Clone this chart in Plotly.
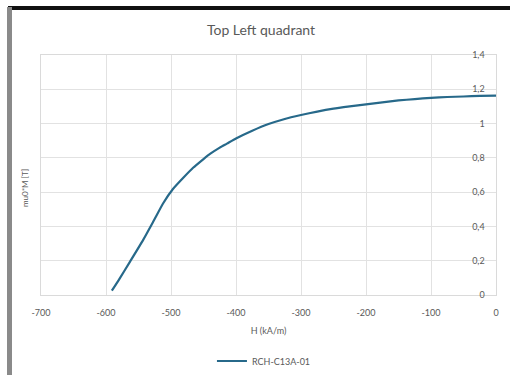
import plotly.graph_objects as go

# Data
H_kAm = [-591, -580, -563, -543, -527, -512, -497, -480, -466, -450, -440, -425,
         -414, -400, -375, -350, -325, -300, -275, -250, -225, -200, -175, -150,
         -125, -100, -75, -50, -25, 0]
mu0M_T = [0.025, 0.09, 0.195, 0.32, 0.43, 0.535, 0.618, 0.688, 0.742, 0.793, 0.823, 0.86,
          0.883, 0.913, 0.958, 0.997, 1.027, 1.05, 1.07, 1.087, 1.10, 1.112, 1.124, 1.135,
          1.143, 1.15, 1.155, 1.158, 1.161, 1.163]
series_name = "RCH-C13A-01"

x_tickvals = [-700, -600, -500, -400, -300, -200, -100, 0]
x_ticktext = ["-700", "-600", "-500", "-400", "-300", "-200", "-100", "0"]
y_tickvals = [0, 0.2, 0.4, 0.6, 0.8, 1.0, 1.2, 1.4]
y_ticktext = ["0", "0,2", "0,4", "0,6", "0,8", "1", "1,2", "1,4"]

TXT = "#595959"
GRID = "#e2e2e2"
FONT = "Lato, Liberation Sans, sans-serif"

fig = go.Figure()
fig.add_trace(go.Scatter(
    x=H_kAm, y=mu0M_T, mode="lines", name=series_name,
    line=dict(color="#27698a", width=2.2, shape="spline", smoothing=0.5),
))
# same series on the label axis (invisible) so that the label axis renders
fig.add_trace(go.Scatter(
    x=H_kAm, y=mu0M_T, mode="lines", yaxis="y2", showlegend=False,
    hoverinfo="skip", line=dict(color="rgba(0,0,0,0)", width=0),
))

fig.update_layout(
    width=510, height=375,
    margin=dict(l=41, r=14, t=55, b=80, autoexpand=False),
    paper_bgcolor="white", plot_bgcolor="white",
    font=dict(family=FONT, size=9, color=TXT),
    separators=", ",
    showlegend=True,
    legend=dict(orientation="h", x=0.49, xanchor="center", y=-0.275, yanchor="middle",
                font=dict(size=9, color=TXT), tracegroupgap=0),
    title=dict(text="Top Left quadrant", x=261 / 510, xanchor="center",
               y=1 - 30 / 375, yanchor="middle",
               font=dict(family=FONT, size=14, color=TXT)),
    xaxis=dict(range=[-700, 0], tickvals=x_tickvals, ticktext=x_ticktext,
               showgrid=True, gridcolor=GRID, gridwidth=1, zeroline=False,
               showline=True, linecolor="#dadada", mirror=True,
               ticks="", ticklabelstandoff=9, automargin=False,
               tickfont=dict(size=9, color=TXT),
               title=dict(text="H (kA/m)", font=dict(size=9, color=TXT), standoff=10)),
    yaxis=dict(range=[0, 1.4], tickvals=y_tickvals, side="right",
               showticklabels=False, automargin=False,
               showgrid=True, gridcolor=GRID, gridwidth=1, zeroline=False,
               showline=True, linecolor="#dadada", mirror=True, ticks=""),
    yaxis2=dict(range=[0, 1.4], tickvals=y_tickvals, ticktext=y_ticktext,
                overlaying="y", anchor="free", position=0.975, side="left",
                ticklabelposition="outside", ticks="", automargin=False,
                showgrid=False, zeroline=False, showline=False,
                tickfont=dict(size=9, color=TXT)),
    annotations=[dict(text="mu0*M [T]", xref="paper", yref="paper",
                      x=(25 - 41) / 455, y=(295 - 188) / 240, textangle=-90,
                      showarrow=False, xanchor="center", yanchor="middle",
                      font=dict(size=8, color=TXT))],
    shapes=[
        # black frame edge at top
        dict(type="rect", xref="paper", yref="paper",
             x0=(8 - 41) / 455, x1=(510 - 41) / 455,
             y0=(295 - 10) / 240, y1=(295 - 6) / 240,
             fillcolor="#111111", line=dict(width=0), layer="above"),
        # gray frame edge at left
        dict(type="rect", xref="paper", yref="paper",
             x0=(7 - 41) / 455, x1=(12 - 41) / 455,
             y0=(295 - 375) / 240, y1=(295 - 7) / 240,
             fillcolor="#8a8a8a", line=dict(width=0), layer="above"),
    ],
)

fig.write_html("out.html")
